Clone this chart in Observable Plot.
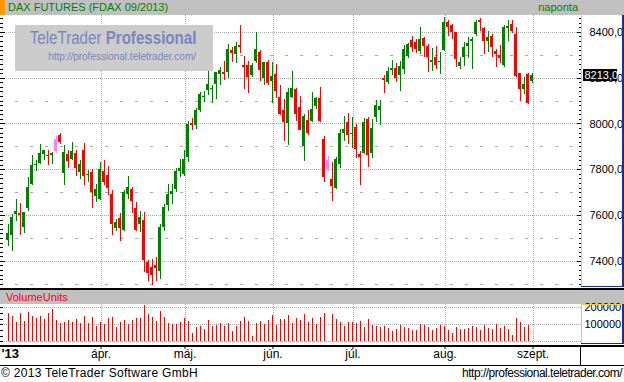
<!DOCTYPE html>
<html><head><meta charset="utf-8">
<script src="https://cdn.jsdelivr.net/npm/d3@7"></script>
<script src="https://cdn.jsdelivr.net/npm/@observablehq/plot@0.6"></script>
<style>
body{margin:0;background:#fff;}
#chart{position:relative;width:624px;height:382px;overflow:hidden;background:#fff;font-family:"Liberation Sans",Arial,sans-serif;}
#chart .a{position:absolute;}
#chart svg{position:absolute;left:0;overflow:visible;}
</style></head><body><div id="chart"></div>
<script>
// ---- data ----
const opens  = [7492,7512,7603,7607,7547,7629,7734,7818,7826,7867,7863,7864,7880,7949,7784,7866,7844,7870,7787,7883,7775,7787,7682,7669,7791,7774,7691,7542,7586,7533,7691,7712,7629,7563,7577,7397,7375,7384,7358,7550,7642,7691,7712,7791,7778,7853,8000,7993,8058,8117,8146,8151,8172,8216,8223,8225,8321,8304,8343,8255,8255,8212,8273,8312,8198,8269,8185,8216,8115,8058,8001,8115,8150,8071,7901,8015,8010,8076,8111,7931,7840,7756,7717,7822,7958,8006,7954,7984,7866,7870,8019,7870,8028,8058,8198,8181,8234,8242,8212,8238,8293,8365,8356,8318,8374,8339,8270,8289,8269,8321,8442,8431,8399,8253,8289,8340,8359,8391,8450,8416,8359,8381,8315,8299,8257,8417,8435,8391,8219,8150,8216,8187];
const highs  = [7562,7606,7669,7651,7615,7765,7861,7839,7909,7883,7883,7875,7945,7958,7905,7883,7918,7883,7840,7914,7797,7800,7734,7831,7840,7813,7708,7581,7607,7708,7769,7721,7656,7620,7612,7406,7410,7415,7559,7647,7734,7734,7804,7844,7883,8010,8022,8066,8139,8140,8228,8168,8225,8248,8274,8347,8334,8356,8431,8295,8273,8264,8400,8321,8269,8277,8269,8260,8168,8106,8155,8229,8155,8120,8041,8058,8137,8115,8159,7945,7857,7831,7853,7975,8032,8045,8028,7997,7879,8023,8028,8019,8102,8102,8212,8247,8277,8264,8274,8343,8350,8381,8369,8420,8377,8347,8328,8337,8311,8464,8450,8435,8399,8289,8355,8377,8377,8450,8461,8420,8403,8391,8326,8344,8428,8450,8453,8420,8219,8201,8219,8219];
const lows   = [7467,7445,7574,7513,7521,7620,7731,7793,7822,7839,7819,7823,7872,7912,7731,7804,7840,7769,7756,7731,7743,7629,7656,7664,7730,7686,7511,7530,7489,7529,7669,7607,7529,7524,7353,7314,7296,7314,7323,7529,7620,7647,7699,7765,7769,7831,7971,7975,8051,8093,8124,8090,8106,8168,8190,8198,8269,8264,8308,8150,8133,8203,8264,8185,8168,8168,8088,8111,8036,7923,7905,8111,8010,7971,7835,7949,8006,8063,8006,7743,7791,7660,7712,7804,7923,7909,7892,7848,7730,7866,7809,7848,8006,7993,8133,8172,8212,8181,8143,8216,8286,8311,8307,8304,8289,8223,8228,8238,8216,8315,8380,8369,8245,8238,8253,8286,8238,8384,8406,8304,8311,8292,8248,8263,8248,8362,8394,8201,8099,8128,8085,8179];
const closes = [7521,7590,7620,7600,7612,7721,7818,7823,7870,7883,7858,7869,7933,7918,7874,7837,7879,7804,7822,7769,7779,7699,7712,7800,7743,7717,7559,7568,7542,7699,7721,7660,7533,7590,7402,7349,7340,7371,7550,7634,7691,7704,7791,7804,7844,7997,7993,8058,8128,8121,8174,8155,8225,8234,8216,8325,8309,8339,8336,8247,8203,8255,8325,8234,8269,8177,8207,8142,8041,8006,8137,8155,8041,7971,8032,7958,8063,8111,8010,7765,7800,7726,7844,7958,7975,7949,7958,7888,7853,8006,7861,7979,8080,8076,8190,8229,8242,8198,8253,8326,8345,8333,8325,8369,8340,8289,8277,8257,8273,8442,8423,8399,8282,8267,8333,8350,8368,8442,8442,8362,8377,8333,8304,8286,8423,8426,8406,8209,8150,8172,8088,8213];
const volumes = [163,150,115,163,120,169,150,138,151,132,167,190,126,105,115,126,111,132,105,150,105,144,93,111,99,134,140,85,115,126,99,126,134,134,210,157,140,120,175,140,109,103,99,115,138,
                 120,50,85,91,74,126,91,97,109,91,109,62,91,120,144,120,33,109,120,103,126,155,97,132,132,155,109,138,126,161,115,138,103,144,167,4,161,132,115,91,115,115,109,120,85,
                 132,97,91,85,91,80,62,74,97,85,80,68,68,103,97,85,68,80,97,91,68,50,85,74,74,80,91,85,68,97,80,74,103,80,91,74,39,138,115,85,97,4].map(v => v * 1000);
const markedCandles = [12, 80];                 // candles drawn in pink
const monthLabels   = ["ápr.", "máj.", "jún.", "júl.", "aug.", "szept."];
const monthStarts   = [23, 44, 66, 86, 109, 131]; // candle index of first trading day
const yearLabel     = "'13";
const priceGrid     = [7400, 7600, 7800, 8000, 8200, 8400];
const priceHalfGrid = [7300, 7500, 7700, 7900, 8100, 8300];
const volumeGrid    = [0, 100000, 200000];
const volumeLabels  = [100000, 200000];
const titleText  = "DAX FUTURES (FDAX 09/2013)";
const periodText = "naponta";
const volumeTitle = "VolumeUnits";

// ---- layout ----
const W = 624, FRAME_R = 581, MR = W - FRAME_R;
const X0 = 7.5, DX = 4;
const xDomain = [-X0 / DX, (FRAME_R - X0) / DX];
const px2i = p => (p - X0) / DX;
const fmt1 = d => d.toFixed(1).replace(".", ",");
const GRID = "#a9a9a9";
const font = {fontFamily: "'Liberation Sans', Arial, sans-serif", fontSize: "11px", background: "transparent", overflow: "visible"};

const data = opens.map((o, i) => {
  const c = closes[i];
  let bt = Math.max(o, c), bl = Math.min(o, c);
  if (bt - bl < 4.4) { const m = (o + c) / 2; bt = m + 2.2; bl = m - 2.2; }
  const col = markedCandles.includes(i) ? "#ff80ff" : (c >= o ? "#008000" : "#ff0000");
  return {i, o, h: highs[i], l: lows[i], c, bt, bl, col, v: volumes[i]};
});

const chart = document.getElementById("chart");
function box(css, html) { const d = document.createElement("div"); d.className = "a"; d.style.cssText = css; if (html != null) d.innerHTML = html; chart.appendChild(d); return d; }
function place(svg, top) { svg.style.top = top + "px"; chart.appendChild(svg); }

// ---- title bar ----
box("left:0;top:0;width:624px;height:15px;background:#c0c0c0;");
box("left:0;top:0;width:5px;height:15px;background:#ff9900;");
box("left:8px;top:1px;height:14px;line-height:13px;font-size:11px;color:#008000;white-space:nowrap;", titleText);
box("right:46px;top:1px;height:14px;line-height:13px;font-size:11px;color:#008000;white-space:nowrap;", periodText);

// ---- price panel ----
const minorP = d3.range(7300, 8480, 20);
const lastClose = closes[closes.length - 1];
const price = Plot.plot({
  width: W, height: 272, marginLeft: 0, marginRight: MR, marginTop: 0, marginBottom: 0,
  x: {domain: xDomain, axis: null},
  y: {domain: [7286, 8473.8], axis: null},
  color: {type: "identity"},
  style: font,
  marks: [
    Plot.ruleY(priceHalfGrid, {stroke: GRID, strokeDasharray: "3,12", shapeRendering: "crispEdges"}),
    Plot.ruleY(priceGrid, {stroke: GRID, strokeDasharray: "1,1", shapeRendering: "crispEdges"}),
    Plot.ruleX(monthStarts, {x: d => d + 0.25, stroke: GRID, strokeDasharray: "1,1", shapeRendering: "crispEdges"}),
    Plot.ruleX(data, {x: "i", y1: "l", y2: "h", stroke: "col", shapeRendering: "crispEdges"}),
    Plot.rect(data, {x1: d => d.i - 0.375, x2: d => d.i + 0.375, y1: "bl", y2: "bt", fill: "col", shapeRendering: "crispEdges"}),
    Plot.ruleY(minorP, {x1: () => px2i(0), x2: d => px2i(d % 200 === 0 ? 5 : 3), stroke: "#000", shapeRendering: "crispEdges"}),
    Plot.ruleY(minorP, {x1: d => px2i(d % 200 === 0 ? 577 : 579), x2: () => px2i(FRAME_R), stroke: "#000", shapeRendering: "crispEdges"}),
    Plot.axisY(priceGrid, {anchor: "right", tickSize: 0, tickPadding: 8, tickFormat: fmt1, fill: "#000", fontSize: 11, label: null}),
    Plot.ruleY([lastClose], {x1: () => px2i(582.5), x2: () => px2i(617), stroke: "#000", strokeWidth: 12, shapeRendering: "crispEdges"}),
    Plot.text([lastClose], {y: d => d, x: () => px2i(584), text: fmt1, fill: "#fff", textAnchor: "start", fontSize: 11})
  ]
});
place(price, 15);

// watermark (opaque box above grid; no candles underneath)
box("left:15px;top:25px;width:198px;height:46px;background:#cccccc;");
box("right:428px;top:28px;font-size:18px;line-height:21px;color:#7a86be;white-space:nowrap;transform:scaleX(0.84);transform-origin:100% 50%;", "TeleTrader <b>Professional</b>");
box("right:428px;top:51px;font-size:10px;line-height:12px;color:#7a86be;white-space:nowrap;", "http://professional.teletrader.com/");

// right axis panel borders
box("left:581px;top:15px;width:1px;height:272px;background:#f0c850;");
box("left:622px;top:15px;width:2px;height:272px;background:#1a2ea0;");
box("left:581px;top:286px;width:43px;height:1px;background:#1a2ea0;");

// separator + volume header
box("left:0;top:288px;width:624px;height:2px;background:#000;");
box("left:0;top:290px;width:624px;height:14px;background:#c0c0c0;");
box("left:6px;top:291px;line-height:12px;font-size:11px;color:#ff0000;white-space:nowrap;", volumeTitle);

// ---- volume panel ----
const minorV = d3.range(0, 220000, 100000 / 3);
const volume = Plot.plot({
  width: W, height: 40, marginLeft: 0, marginRight: MR, marginTop: 0, marginBottom: 0,
  x: {domain: xDomain, axis: null},
  y: {domain: [-14535, 218023], axis: null},
  style: font,
  marks: [
    Plot.ruleY(volumeGrid, {stroke: GRID, strokeDasharray: "1,1", shapeRendering: "crispEdges"}),
    Plot.ruleX(monthStarts, {x: d => d + 0.25, stroke: GRID, strokeDasharray: "1,1", shapeRendering: "crispEdges"}),
    Plot.ruleX(data, {x: "i", y1: 0, y2: "v", stroke: "#ff0000", shapeRendering: "crispEdges"}),
    Plot.ruleY(minorV, {x1: () => px2i(0), x2: () => px2i(3), stroke: "#000", shapeRendering: "crispEdges"}),
    Plot.axisY(volumeLabels, {anchor: "right", tickSize: 0, tickPadding: 3, tickFormat: d => String(d), fill: "#000", fontSize: 11, label: null})
  ]
});
place(volume, 304);
box("left:581px;top:304px;width:1px;height:40px;background:#f0c850;");
box("left:581px;top:304px;width:43px;height:1px;background:#f0c850;");
box("left:622px;top:304px;width:2px;height:40px;background:#1a2ea0;");
box("left:581px;top:343px;width:43px;height:1px;background:#1a2ea0;");

// separator
box("left:0;top:345px;width:624px;height:2px;background:#000;");

// ---- x axis (frame collapsed to the top edge; labels hang below) ----
const xaxis = Plot.plot({
  width: W, height: 18, marginLeft: 0, marginRight: MR, marginTop: 0, marginBottom: 18,
  x: {domain: xDomain, axis: null},
  style: font,
  marks: [
    Plot.axisX(monthStarts, {x: d => d + 0.25, anchor: "bottom", tickSize: 2, tickPadding: 0, tickFormat: (d, k) => monthLabels[k], fontSize: 12, fill: "#000", label: null}),
    Plot.text([yearLabel], {frameAnchor: "top-left", text: d => d, textAnchor: "start", lineAnchor: "top", dx: 1, dy: 1, fontWeight: "bold", fontSize: 13, fill: "#000"})
  ]
});
place(xaxis, 347);
box("left:580px;top:347px;width:1px;height:18px;background:#000;");
box("left:0;top:365px;width:624px;height:1px;background:#000;");

// ---- footer ----
box("left:1px;top:366px;line-height:15px;font-size:12px;letter-spacing:0.3px;color:#000;white-space:nowrap;", "© 2013 TeleTrader Software GmbH");
box("right:2px;top:366px;line-height:15px;font-size:12px;letter-spacing:-0.5px;color:#000;white-space:nowrap;", "http://professional.teletrader.com/");
</script></body></html>
